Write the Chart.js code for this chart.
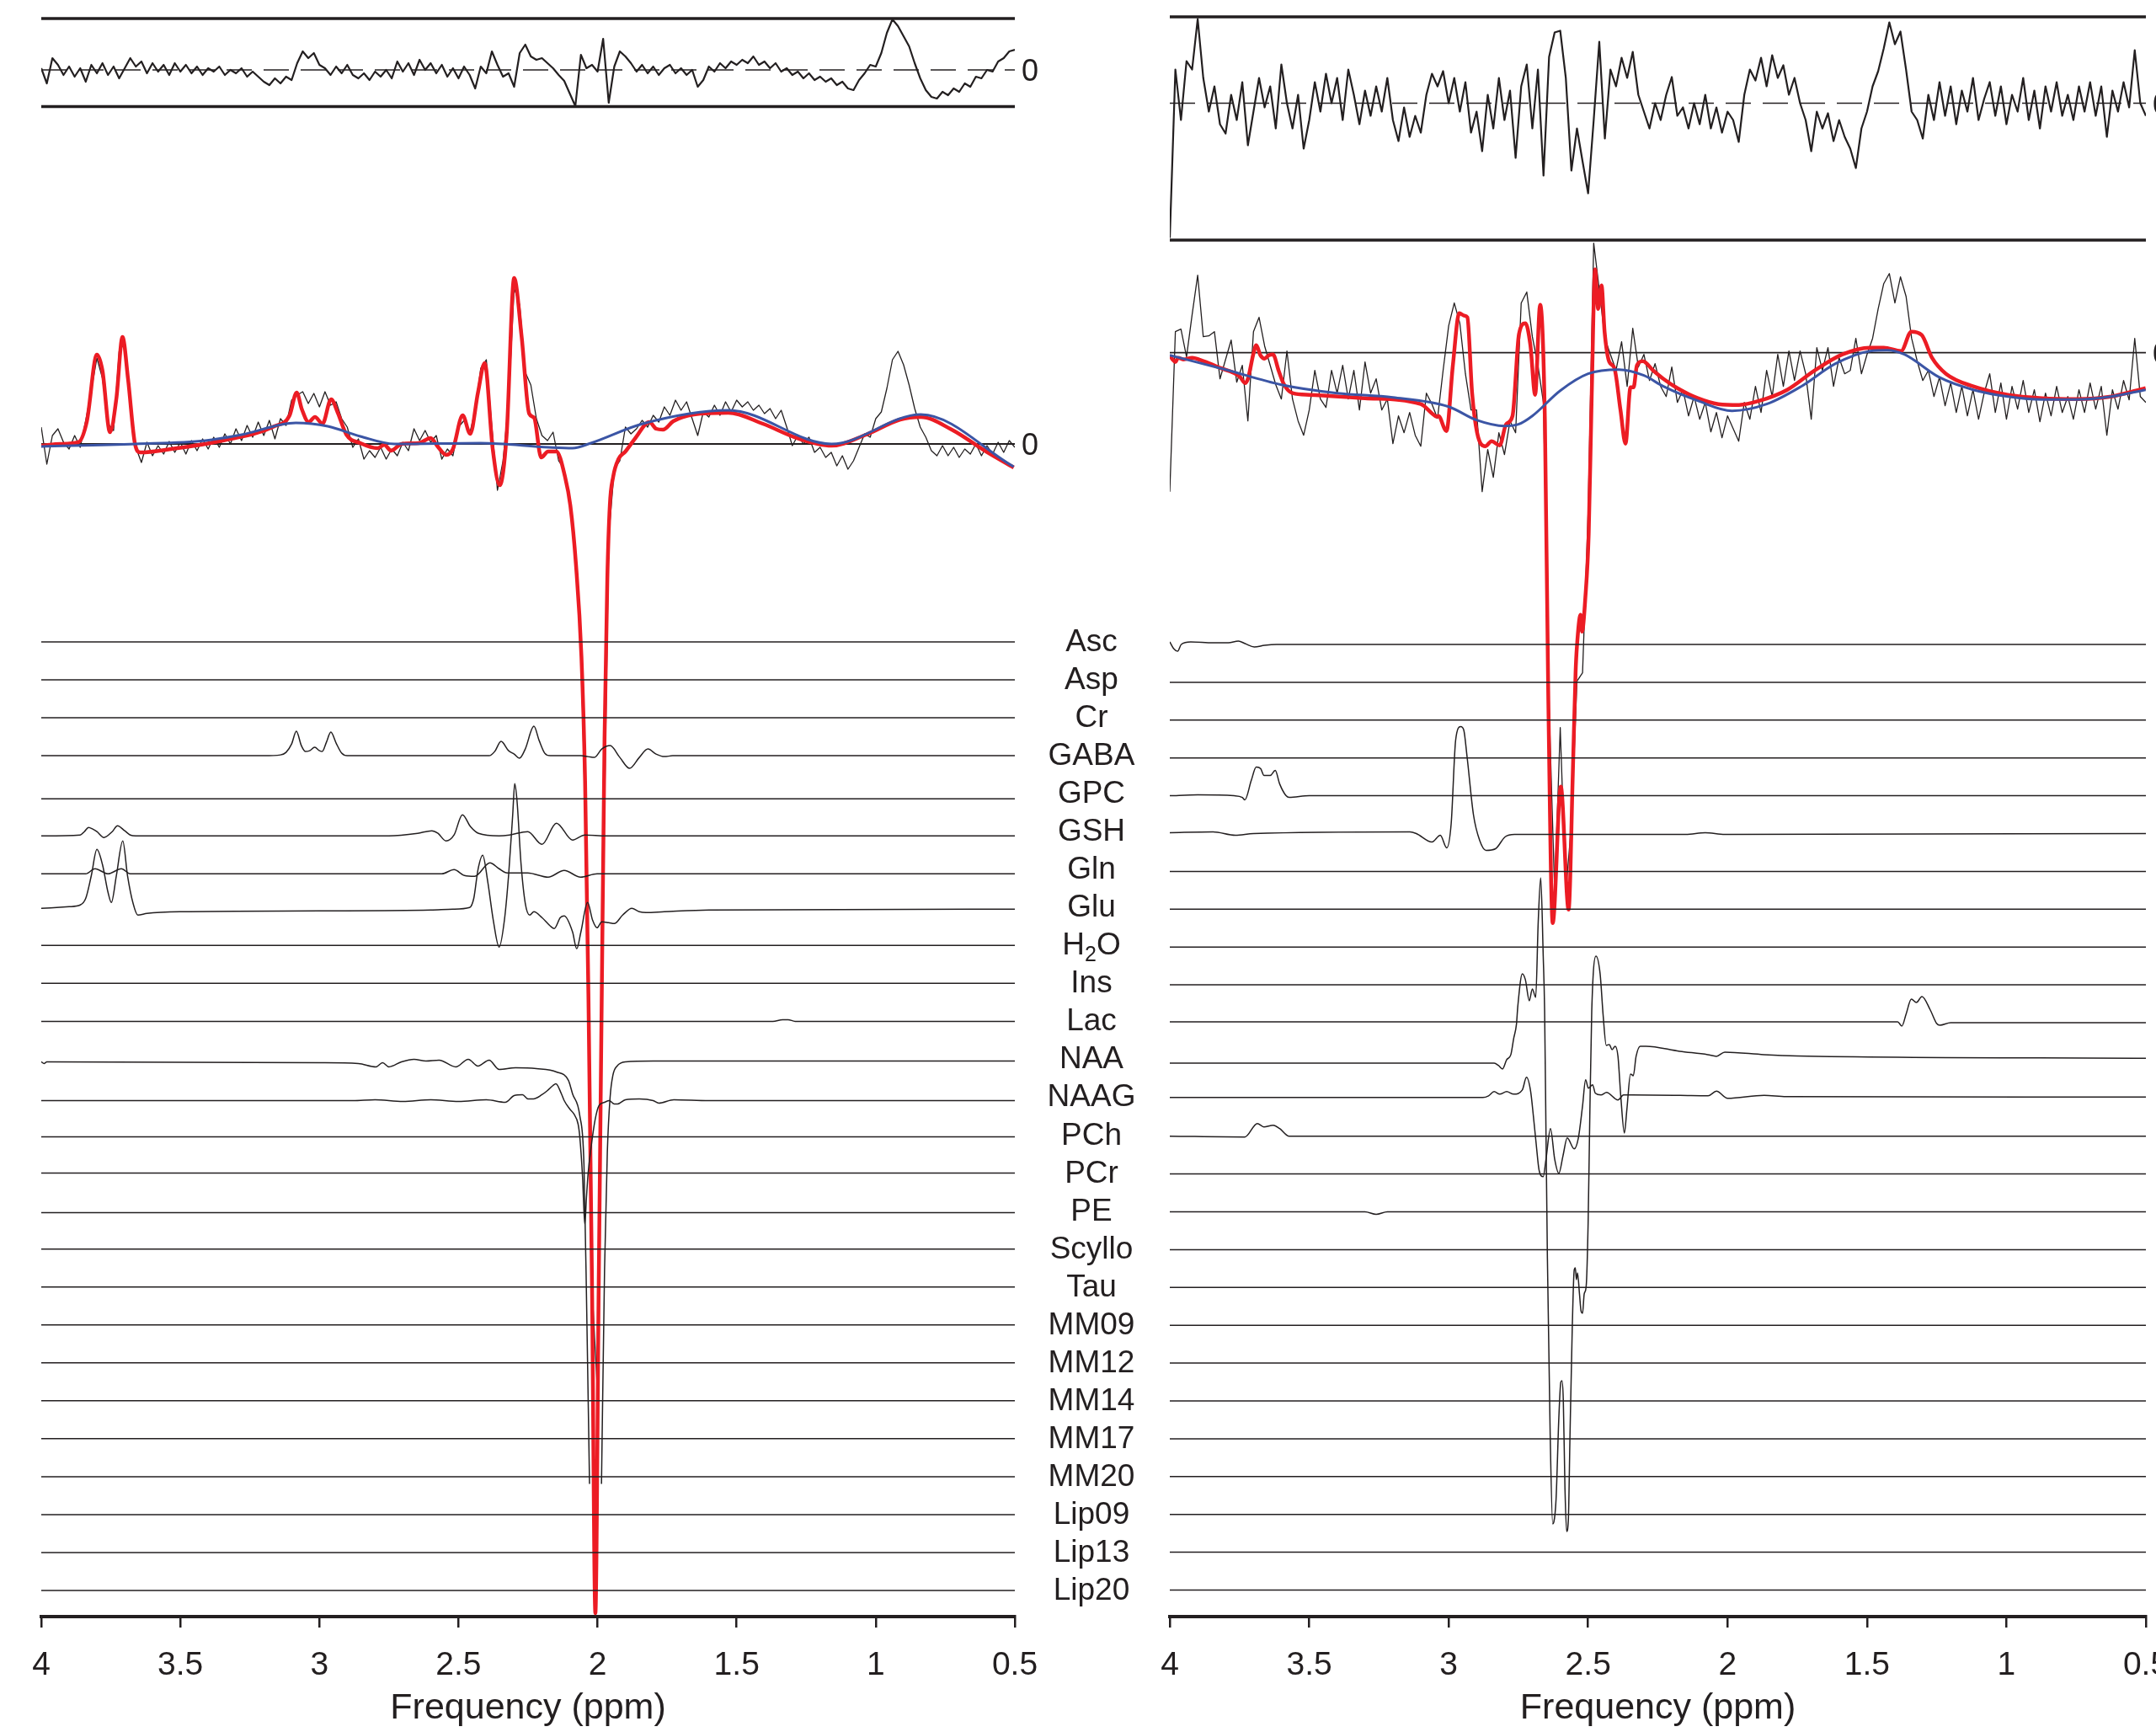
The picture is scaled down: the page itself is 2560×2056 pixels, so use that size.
<!DOCTYPE html>
<html>
<head>
<meta charset="utf-8">
<script src="https://cdn.jsdelivr.net/npm/chart.js@4.4.1/dist/chart.umd.min.js"></script>
<style>
  html, body { margin: 0; padding: 0; background: #fff; overflow: hidden; }
  body { width: 2560px; height: 2056px; position: relative; }
  canvas { position: absolute; top: 0; }
  #left { left: 0; }
  #right { left: 1340px; }
</style>
</head>
<body>
<canvas id="left" width="1400" height="2056" style="width:1400px;height:2056px"></canvas>
<canvas id="right" width="1300" height="2056" style="width:1300px;height:2056px"></canvas>
<script>
// metabolite rows, top to bottom
const metaboliteNames = ["Asc", "Asp", "Cr", "GABA", "GPC", "GSH", "Gln", "Glu", "H2O", "Ins", "Lac",
  "NAA", "NAAG", "PCh", "PCr", "PE", "Scyllo", "Tau", "MM09", "MM12", "MM14", "MM17", "MM20",
  "Lip09", "Lip13", "Lip20"];

// noisy traces are sampled every 0.02 ppm from 4.00 down to 0.50
const gridStart = 4;
const gridStep = 0.02;

// ---- left panel ----
const leftResidual = [2,-16,14,6,-6,4,-8,2,-14,6, -4,8,-6,4,-10,2,14,4,10,-4, 8,-2,6,-6,8,-2,6,-4,4,-6,
  2,-2,4,-6,0,-4,2,-8,-2,-8, -14,-18,-10,-16,-8,-12,8,22,14,20, 6,2,-6,4,-4,6,-6,-10,-4,-12,
  -2,-8,0,-10,10,-2,8,-6,12,0, 8,-4,6,-8,2,-10,4,-6,-22,4, -4,22,6,-8,-4,-20,20,30,16,12,
  14,8,2,-6,-13,-28,-43,18,2,6, -2,37,-39,4,22,16,8,-2,6,-4, 4,-6,2,6,-4,2,-6,0,-20,-12,
  4,-2,8,2,10,6,12,8,16,6, 10,2,8,-2,2,-6,-2,-10,-4,-12, -8,-14,-10,-18,-14,-22,-24,-12,-4,6,
  4,20,44,60,52,40,28,8,-10,-24, -32,-34,-26,-30,-22,-26,-16,-20,-8,-10, 0,-2,10,14,22,24];

const leftData = [20,-24,10,18,2,-6,10,-4,28,64, 102,78,24,16,110,120,45,-4,-22,2, -14,-2,-12,3,-10,2,-12,4,-8,6,
  -6,8,-4,12,0,18,4,22,8,26, 10,28,6,30,22,52,58,62,48,60, 44,62,46,50,30,20,-4,6,-18,-8,
  -16,-4,-18,-6,-14,2,-8,18,4,16, 2,10,-18,-6,-14,20,28,12,40,90, 100,20,-55,-20,50,185,165,85,70,30,
  10,4,14,-20,-30,-68,-130,-240,-500,-1000, -1130,-540,-110,-30,-20,20,12,18,28,20, 34,26,44,34,52,40,50,30,10,38,
  32,46,34,50,38,52,44,50,40,46, 36,42,30,40,20,-2,10,0,8,-10, -4,-16,-10,-26,-14,-30,-20,-4,12,8,
  30,38,66,100,110,94,70,42,20,8, -8,-14,-2,-14,-4,-16,-6,-12,0,-14, -2,-12,2,-10,4,-4];

const leftFit = [[4.0,-2],[3.93,0],[3.867,2],[3.836,27],[3.80,106],[3.78,87],[3.753,14],[3.73,54],[3.708,127],
  [3.688,77],[3.663,0],[3.644,-10],[3.533,-6],[3.348,4],[3.162,21],[3.107,34],[3.082,61],[3.063,41],[3.039,26],
  [3.016,32],[2.989,24],[2.958,53],[2.934,37],[2.903,11],[2.853,1],[2.791,-5],[2.767,-1],[2.742,-8],[2.705,0],
  [2.643,1],[2.60,7],[2.575,-3],[2.544,-13],[2.52,-6],[2.485,34],[2.458,12],[2.43,61],[2.406,96],[2.377,-6],
  [2.352,-49],[2.327,11],[2.30,197],[2.273,127],[2.246,36],[2.228,31],[2.203,-16],[2.178,-9],[2.148,-9],
  [2.117,-39],[2.098,-73],[2.078,-142],[2.058,-253],[2.045,-400],[2.033,-653],[2.02,-1000],[2.008,-1388],
  [1.996,-1000],[1.985,-653],[1.975,-350],[1.965,-160],[1.956,-73],[1.944,-39],[1.925,-18],[1.90,-9],[1.864,7],
  [1.814,26],[1.789,18],[1.765,17],[1.728,27],[1.654,35],[1.53,37],[1.406,24],[1.283,7],[1.159,-2],[1.035,11],
  [0.912,29],[0.838,32],[0.727,17],[0.603,-9],[0.504,-28]];

const leftBaseline = [[4.0,-3],[3.66,0],[3.41,4],[3.28,11],[3.085,25],[2.97,21],[2.853,9],[2.73,0],[2.42,1],
  [2.175,-4],[2.09,-5],[2.024,1],[1.838,24],[1.53,40],[1.159,0],[0.838,35],[0.504,-27]];

const leftGABA = [[4,0],[3.2,0],[3.14,1],[3.12,4],[3.10,14],[3.083,29],[3.065,12],[3.05,5],[3.035,6],[3.017,10],
  [3.0,6],[2.99,5],[2.975,16],[2.959,28],[2.94,15],[2.92,3],[2.90,0],[2.39,0],[2.37,5],[2.347,17],[2.32,6],
  [2.30,2],[2.281,-3],[2.26,8],[2.229,35],[2.21,18],[2.19,3],[2.17,0],[2.06,0],[2.035,-1],[2.012,-2],[1.985,8],
  [1.955,12],[1.92,-2],[1.885,-15],[1.85,-2],[1.819,8],[1.79,2],[1.76,-1],[1.73,0],[0.5,0]];
const leftGSH = [[4,-5],[3.86,-4],[3.845,0],[3.83,5],[3.815,3],[3.80,0],[3.775,-7],[3.745,0],[3.726,7],[3.70,1],
  [3.68,-4],[3.66,-5],[2.75,-5],[2.647,-2],[2.596,1],[2.574,-2],[2.545,-11],[2.516,-4],[2.486,20],[2.457,6],
  [2.428,-2],[2.354,-5],[2.317,-4],[2.251,0],[2.2,-15],[2.148,10],[2.09,-10],[2.046,-4],[1.97,-5],[0.5,-5]];
const leftGln = [[4,-5],[3.84,-5],[3.807,1],[3.76,-5],[3.712,1],[3.68,-5],[2.56,-5],[2.516,0],[2.479,-7],
  [2.442,-8],[2.387,8],[2.354,1],[2.325,-4],[2.251,-4],[2.178,-9],[2.12,-1],[2.061,-9],[2.002,-5],[0.5,-5]];
const leftGlu = [[4,-1],[3.9,1],[3.86,3],[3.84,11],[3.82,38],[3.80,69],[3.78,51],[3.76,18],[3.748,6],[3.73,38],
  [3.707,79],[3.69,38],[3.67,5],[3.653,-9],[3.62,-7],[3.5,-5],[3.0,-4],[2.6,-3],[2.52,-2],[2.46,0],[2.445,11],
  [2.43,45],[2.413,62],[2.395,31],[2.375,-15],[2.354,-47],[2.335,-15],[2.32,38],[2.305,111],[2.298,147],
  [2.29,128],[2.275,51],[2.26,5],[2.244,-9],[2.229,-5],[2.2,-12],[2.17,-22],[2.156,-25],[2.134,-12],[2.12,-10],
  [2.09,-29],[2.075,-49],[2.06,-29],[2.036,6],[2.018,-15],[2.002,-24],[1.985,-17],[1.96,-18],[1.94,-19],
  [1.91,-9],[1.877,-1],[1.85,-5],[1.826,-6],[1.76,-5],[1.6,-3],[0.5,-2]];
const leftLac = [[4,0],[1.37,0],[1.335,2],[1.315,2],[1.29,0],[0.5,0]];
const leftNAA = [[4,-3],[3.99,-5],[3.98,-3],[3.0,-4],[2.86,-5],[2.797,-9],[2.773,-4],[2.75,-9],[2.705,-3],
  [2.66,0],[2.617,-2],[2.57,-1],[2.51,-9],[2.465,0],[2.43,-8],[2.39,-1],[2.354,-12],[2.295,-10],[2.22,-11],
  [2.148,-15],[2.105,-25],[2.09,-41],[2.064,-67],[2.049,-125],[2.039,-300],[2.029,-504],[2.01,null],
  [1.986,-504],[1.975,-250],[1.965,-110],[1.955,-45],[1.945,-19],[1.93,-8],[1.90,-3],[1.80,-2],[0.5,-2]];
const leftNAAG = [[4,-4],[2.88,-4],[2.8,-3],[2.7,-5],[2.6,-3],[2.5,-5],[2.4,-3],[2.332,-6],[2.30,2],[2.27,3],
  [2.25,-2],[2.231,-2],[2.20,3],[2.18,8],[2.16,14],[2.15,16],[2.13,4],[2.12,-4],[2.10,-14],[2.085,-20],
  [2.07,-32],[2.064,-47],[2.054,-95],[2.046,-151],[2.04,-119],[2.034,-90],[2.024,-61],[2.009,-27],[1.995,-10],
  [1.975,-6],[1.958,-4],[1.94,-8],[1.928,-8],[1.90,-3],[1.85,-2],[1.80,-4],[1.78,-7],[1.726,-3],[1.6,-4],[0.5,-4]];
// level of the flat component traces
const leftLevels = [0,0,0,0,-6,0,0,0,0,0,0,0,0,-2,0,-2,0,0,0,0,0,0,0,0,0,0];

// ---- right panel ----
const rightResidual = [-160,40,-20,50,40,100,30,-10,20,-25, -36,10,-20,25,-50,-10,30,-5,20,-30,
  46,0,-30,10,-54,-20,25,-10,35,0, 30,-20,40,10,-25,15,-15,20,-10,30, -20,-45,-5,-40,-15,-35,10,35,20,38,
  0,30,-10,25,-35,-10,-57,10,-30,30, -20,15,-65,20,46,-30,40,-86,55,84, 86,30,-80,-30,-69,-107,-20,73,-42,40,
  20,54,30,61,10,-10,-30,0,-20,10, 31,-15,-5,-30,0,-25,10,-30,-5,-35, -10,-20,-46,10,40,27,54,20,57,30,
  45,10,30,0,-20,-57,-10,-30,-12,-45, -20,-40,-54,-77,-30,-10,20,38,65,96, 70,85,40,-10,-20,-42,10,-20,25,-15,
  20,-25,15,-10,30,-20,5,25,-15,20, -25,10,-10,30,-20,15,-30,20,-10,25, -15,10,-20,20,-10,25,-15,20,-40,15,
  -10,25,-5,63,0,-15];

const rightData = [-165,25,28,-5,45,92,19,20,25,-31, -8,15,-35,-15,-81,25,42,8,-15,-38,
  -55,2,-55,-81,-98,-68,-21,-55,-65,-21, -48,-15,-55,-21,-68,-11,-48,-31,-68,-55,
  -108,-75,-95,-71,-98,-111,-48,-61,-78,-21, 32,59,35,-25,-68,-68,-165,-115,-148,-95,
  -121,-81,-95,59,72,19,-15,-60,-420,-640, -445,-640,-560,-390,-380,-190,130,75,17,-2,
  -21,13,-40,29,-17,-2,-33,-13,-40,-52, -17,-59,-44,-75,-52,-79,-59,-94,-71,-101,
  -75,-90,-105,-59,-79,-40,-71,-21,-52,-2, -40,2,-33,2,-25,-79,6,-21,6,-40,
  -6,-25,-21,17,-25,-2,17,52,82,94, 59,90,67,17,-10,-33,-21,-52,-29,-63,
  -36,-71,-40,-75,-44,-79,-48,-25,-71,-36, -79,-40,-67,-33,-71,-44,-82,-48,-75,-40,
  -71,-52,-79,-44,-71,-36,-67,-40,-98,-44, -67,-33,-56,17,-52,-59];

const rightFit = [[4.0,-3],[3.99,-8],[3.98,-11],[3.97,-6],[3.95,-8],[3.92,-6],[3.88,-10],[3.82,-18],[3.75,-28],
  [3.73,-36],[3.72,-31],[3.70,-1],[3.69,9],[3.675,-3],[3.66,-7],[3.645,-3],[3.63,-2],[3.61,-21],[3.59,-38],
  [3.56,-48],[3.5,-50],[3.3,-54],[3.1,-61],[3.06,-72],[3.043,-76],[3.037,-75],[3.008,-93],[2.985,-15],
  [2.962,47],[2.944,44],[2.933,42],[2.916,-48],[2.898,-95],[2.869,-111],[2.846,-105],[2.817,-110],[2.794,-85],
  [2.771,-75],[2.748,22],[2.725,35],[2.707,9],[2.69,-50],[2.672,57],[2.655,-81],[2.643,-404],[2.627,-677],
  [2.598,-515],[2.57,-661],[2.555,-500],[2.545,-380],[2.54,-348],[2.527,-311],[2.522,-331],[2.51,-291],
  [2.498,-215],[2.487,-48],[2.475,99],[2.464,52],[2.452,80],[2.441,25],[2.424,-11],[2.406,-18],[2.384,-68],
  [2.366,-108],[2.348,-41],[2.337,-41],[2.325,-15],[2.304,-10],[2.267,-21],[2.23,-31],[2.18,-42],[2.107,-54],
  [2.033,-61],[1.959,-62],[1.885,-57],[1.786,-44],[1.687,-21],[1.588,-2],[1.489,6],[1.44,6],[1.378,2],
  [1.341,25],[1.304,21],[1.267,-6],[1.217,-25],[1.119,-40],[0.995,-50],[0.872,-54],[0.748,-55],[0.624,-52],
  [0.501,-42]];

const rightBaseline = [[4.0,-3],[3.8,-20],[3.6,-38],[3.4,-48],[3.2,-53],[3.0,-64],[2.9,-80],[2.8,-87],
  [2.75,-85],[2.7,-75],[2.6,-45],[2.5,-25],[2.39,-20],[2.3,-27],[2.23,-40],[2.107,-57],[1.984,-69],[1.86,-61],
  [1.736,-40],[1.613,-13],[1.489,2],[1.428,3],[1.366,-2],[1.242,-29],[1.119,-44],[0.995,-52],[0.872,-55.5],
  [0.748,-55.5],[0.624,-52],[0.501,-44]];

const rightAsc = [[4,3],[3.986,-5],[3.972,-8],[3.959,0],[3.925,3],[3.845,2],[3.79,2],[3.754,4],[3.73,1],
  [3.697,-3],[3.66,-1],[3.617,0],[0.5,0]];
const rightGPC = [[4,0],[3.9,1],[3.77,0],[3.74,-2],[3.731,-5],[3.708,18],[3.69,34],[3.674,32],[3.662,24],
  [3.64,24],[3.622,30],[3.606,14],[3.583,0],[3.572,-2],[3.5,0],[0.5,0]];
const rightGSH = [[4,1],[3.845,2],[3.765,-2],[3.7,0],[3.139,2],[3.116,0],[3.06,-10],[3.03,-2],[3.007,-17],
  [2.991,12],[2.975,111],[2.957,127],[2.946,123],[2.934,91],[2.911,22],[2.889,-8],[2.866,-20],[2.832,-18],
  [2.798,-4],[2.764,-1],[2.15,-1],[2.08,1],[2.01,-1],[0.5,0]];
const rightLac = [[4,1],[1.39,1],[1.375,-4],[1.36,10],[1.341,28],[1.323,24],[1.303,31],[1.273,15],[1.25,-1],
  [1.239,-3],[1.2,0],[0.5,0]];
const rightNAA = [[4,-3],[3.0,-3],[2.837,-3],[2.821,-6],[2.807,-10],[2.792,1],[2.777,7],[2.767,26],[2.757,43],
  [2.752,65],[2.736,103],[2.725,96],[2.711,71],[2.70,85],[2.688,75],[2.679,164],[2.670,217],[2.661,124],
  [2.656,59],[2.651,-88],[2.646,-235],[2.636,-445],[2.627,-550],[2.623,-548],[2.615,-521],[2.605,-424],
  [2.598,-382],[2.594,-380],[2.589,-403],[2.583,-508],[2.577,-559],[2.571,-546],[2.565,-445],[2.557,-319],
  [2.55,-249],[2.546,-246],[2.542,-260],[2.538,-252],[2.531,-277],[2.525,-298],[2.52,-300],[2.514,-277],
  [2.507,-268],[2.50,-193],[2.494,-66],[2.487,59],[2.472,124],[2.457,103],[2.446,53],[2.435,18],[2.424,19],
  [2.414,13],[2.403,17],[2.393,5],[2.383,-42],[2.37,-86],[2.361,-58],[2.348,-16],[2.338,-18],[2.328,5],
  [2.313,17],[2.293,17],[2.172,11],[2.071,7],[2.04,5],[2.01,10],[1.869,7],[1.751,5.5],[0.5,2.7]];
const rightNAAG = [[4,1],[2.877,1],[2.857,3],[2.837,8],[2.817,5],[2.792,8],[2.767,5],[2.736,10],[2.721,25],
  [2.706,8],[2.696,-22],[2.686,-55],[2.676,-85],[2.661,-93],[2.651,-72],[2.635,-36],[2.62,-72],[2.605,-89],
  [2.59,-68],[2.575,-47],[2.55,-60],[2.535,-47],[2.52,-9],[2.509,22],[2.499,12],[2.484,16],[2.474,6],
  [2.454,4],[2.434,7],[2.393,-2],[2.373,4],[2.343,4],[2.17,3.5],[2.07,3],[2.04,8.5],[2.0,0],[1.869,3.5],
  [1.79,2],[0.5,1.5]];
const rightPCh = [[4,0],[3.731,-1],[3.686,15],[3.663,11],[3.629,13],[3.606,9],[3.572,0],[0.5,0]];
const rightPE = [[4,0],[3.3,0],[3.26,-3],[3.22,0],[0.5,0]];
const rightLevels = new Array(26).fill(0);

// ---- drawing ----
const INK = "#231f20";
const RED = "#ec1c24";
const BLUE = "#3b55a5";
const FONT = "'Liberation Sans', Arial, Helvetica, sans-serif";
Chart.defaults.font.family = FONT;
Chart.defaults.color = INK;

function gridPoints(values, zero) {
  return values.map((v, i) => ({ x: +(gridStart - i * gridStep).toFixed(2), y: zero - v }));
}
function pairPoints(pairs, zero) {
  return pairs.map(([x, v]) => ({ x: x, y: v === null ? null : zero - v }));
}
function trace(data, color, width, order, smooth) {
  return {
    data: data, borderColor: color, borderWidth: width, order: order,
    pointRadius: 0, fill: false, tension: 0, spanGaps: false,
    cubicInterpolationMode: smooth ? "monotone" : "default",
    borderJoinStyle: "round"
  };
}

function framePlugin(p, withNames) {
  return {
    id: "frame",
    beforeDatasetsDraw(chart) {
      const { ctx, chartArea: a, scales: { y } } = chart;
      const hline = (v, w, dash) => {
        ctx.lineWidth = w;
        ctx.setLineDash(dash || []);
        ctx.beginPath();
        ctx.moveTo(a.left, y.getPixelForValue(v));
        ctx.lineTo(a.right, y.getPixelForValue(v));
        ctx.stroke();
      };
      ctx.save();
      ctx.strokeStyle = INK;
      hline(p.residTop, 3.5);
      hline(p.residBottom, 3.5);
      hline(p.residZero, 1.6, [30, 14]);
      hline(p.mainZero, 1.8);
      ctx.restore();
    },
    afterDraw(chart) {
      const { ctx, chartArea: a, scales: { y } } = chart;
      ctx.save();
      ctx.fillStyle = INK;
      ctx.font = "36px " + FONT;
      ctx.textAlign = "center";
      ctx.textBaseline = "alphabetic";
      [p.residZero, p.mainZero].forEach(v => ctx.fillText("0", a.right + 18, y.getPixelForValue(v) + 13));
      if (withNames) {
        const cx = a.right + 91;
        metaboliteNames.forEach((name, k) => {
          const base = y.getPixelForValue(p.rowTop + p.rowStep * k) + 11;
          ctx.font = "37px " + FONT;
          if (name === "H2O") {
            const wH = ctx.measureText("H").width, wO = ctx.measureText("O").width;
            ctx.font = "25px " + FONT;
            const w2 = ctx.measureText("2").width;
            let x0 = cx - (wH + w2 + wO) / 2;
            ctx.textAlign = "left";
            ctx.font = "37px " + FONT;
            ctx.fillText("H", x0, base);
            ctx.font = "25px " + FONT;
            ctx.fillText("2", x0 + wH, base + 8);
            ctx.font = "37px " + FONT;
            ctx.fillText("O", x0 + wH + w2, base);
            ctx.textAlign = "center";
          } else {
            ctx.fillText(name, cx, base);
          }
        });
      }
      ctx.restore();
    }
  };
}

function panelChart(canvasId, p, padding, withNames) {
  const datasets = [];
  metaboliteNames.forEach((name, k) => {
    const lvl = p.levels[k];
    const curve = p.components[name] || [[4, lvl], [0.5, lvl]];
    datasets.push(trace(pairPoints(curve, p.rowTop + p.rowStep * k), INK, 1.5, 1, true));
  });
  datasets.push(trace(pairPoints(p.baseline, p.mainZero), BLUE, 3, 2, true));
  datasets.push(trace(pairPoints(p.fit, p.mainZero), RED, 4.5, 3, true));
  datasets.push(trace(gridPoints(p.data, p.mainZero), INK, 1.3, 4, false));
  datasets.push(trace(gridPoints(p.residual, p.residZero), INK, 2.2, 4, false));

  return new Chart(document.getElementById(canvasId), {
    type: "line",
    data: { datasets: datasets },
    options: {
      responsive: false,
      animation: false,
      events: [],
      layout: { padding: padding },
      plugins: { legend: { display: false }, tooltip: { enabled: false } },
      scales: {
        x: {
          type: "linear", reverse: true, min: 0.5, max: 4,
          afterFit(s) { s.height = 137; },
          ticks: { stepSize: 0.5, font: { size: 39 }, padding: 22, color: INK, maxRotation: 0, autoSkip: false,
                   callback: (v) => String(v) },
          grid: { drawOnChartArea: false, drawTicks: true, tickLength: 13, color: INK, lineWidth: 2.5 },
          border: { display: true, color: INK, width: 4 },
          title: { display: true, text: "Frequency (ppm)", font: { size: 43 }, color: INK,
                   padding: { top: 0, bottom: 2 } }
        },
        y: { type: "linear", display: false, reverse: true, min: 0, max: 1919 }
      }
    },
    plugins: [framePlugin(p, withNames)]
  });
}

panelChart("left", {
  residual: leftResidual, data: leftData, fit: leftFit, baseline: leftBaseline,
  components: { GABA: leftGABA, GSH: leftGSH, Gln: leftGln, Glu: leftGlu, Lac: leftLac, NAA: leftNAA, NAAG: leftNAAG },
  levels: leftLevels,
  residTop: 22, residBottom: 126.5, residZero: 83, mainZero: 527, rowTop: 762, rowStep: 45.04
}, { left: 49, right: 195, top: 0, bottom: 0 }, true);

panelChart("right", {
  residual: rightResidual, data: rightData, fit: rightFit, baseline: rightBaseline,
  components: { Asc: rightAsc, GPC: rightGPC, GSH: rightGSH, Lac: rightLac, NAA: rightNAA, NAAG: rightNAAG,
                PCh: rightPCh, PE: rightPE },
  levels: rightLevels,
  residTop: 20, residBottom: 285, residZero: 122.5, mainZero: 418.7, rowTop: 765, rowStep: 44.9
}, { left: 49, right: 92, top: 0, bottom: 0 }, false);
</script>
</body>
</html>
